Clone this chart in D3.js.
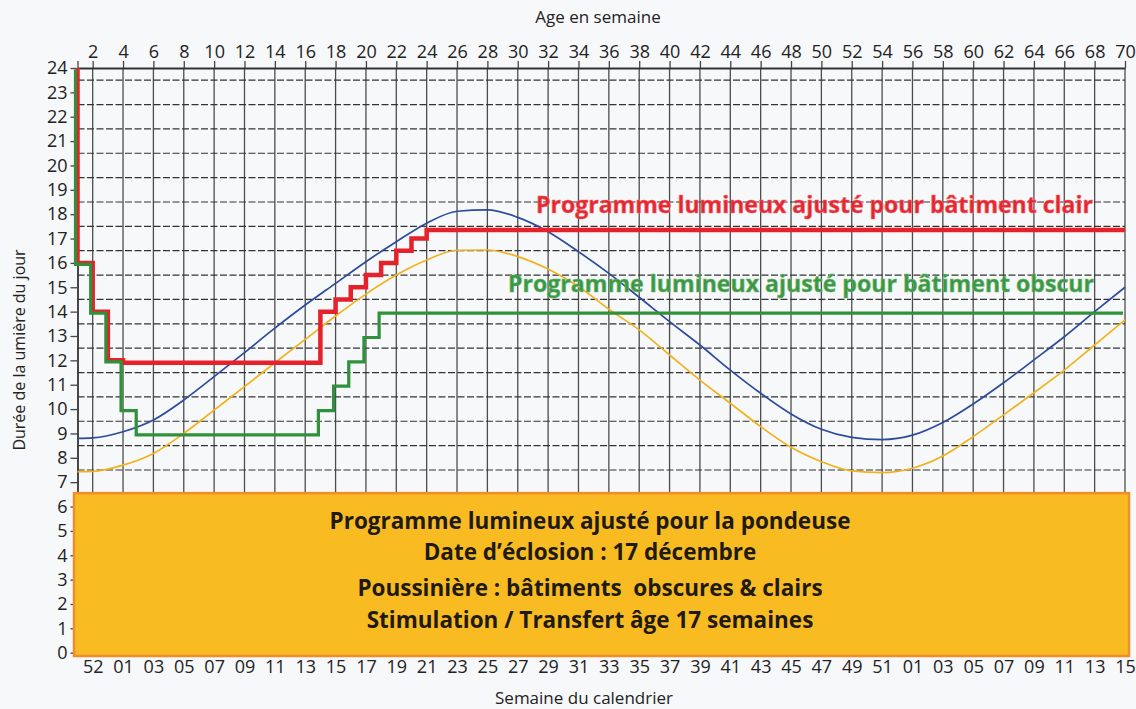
<!DOCTYPE html>
<html>
<head>
<meta charset="utf-8">
<script src="https://cdn.jsdelivr.net/npm/d3@7"></script>
<style>
  body { margin: 0; background: #f7f8fa; }
  svg { display: block; font-family: "Open Sans", sans-serif; }
</style>
</head>
<body>
<div id="chart"></div>
<script>
// age ticks (top axis) and matching calendar weeks (bottom axis)
const ageTicks = [2,4,6,8,10,12,14,16,18,20,22,24,26,28,30,32,34,36,38,40,42,44,46,48,50,52,54,56,58,60,62,64,66,68,70];
const calendarWeeks = ["52","01","03","05","07","09","11","13","15","17","19","21","23","25","27","29","31","33","35","37","39","41","43","45","47","49","51","01","03","05","07","09","11","13","15"];
const hourTicks = [0,1,2,3,4,5,6,7,8,9,10,11,12,13,14,15,16,17,18,19,20,21,22,23,24];
const halfHourGrid = [7.5,8.5,9.5,10.5,11.5,12.5,13.5,14.5,15.5,16.5,17.5,18.5,19.5,20.5,21.5,22.5,23.5];

// natural day length curves, read every two weeks
const curveAges = [1,2,4,6,8,10,12,14,16,18,20,22,24,26,28,30,32,34,36,38,40,42,44,46,48,50,52,54,56,58,60,62,64,66,68,70];
const blueHours = [8.80,8.82,9.07,9.55,10.37,11.33,12.32,13.32,14.27,15.16,16.05,16.87,17.63,18.12,18.18,17.87,17.28,16.46,15.57,14.59,13.59,12.63,11.60,10.65,9.80,9.17,8.84,8.75,8.93,9.45,10.21,11.08,12.02,12.97,14.00,15.00];
const orangeHours = [7.43,7.44,7.70,8.18,9.00,9.96,10.92,11.90,12.86,13.82,14.72,15.50,16.12,16.52,16.53,16.26,15.75,15.03,14.10,13.25,12.22,11.19,10.24,9.28,8.43,7.84,7.46,7.39,7.57,8.07,8.87,9.76,10.67,11.60,12.63,13.66];

// lighting programmes (step changes at given age)
const redAges  = [1,1,2,3,4,17,18,19,20,21,22,23,24,70];
const redHours = [24,16,14,12,11.9,14,14.5,15,15.5,16,16.5,17,17.35,17.35];
const greenAges  = [1,1,2,3,4,5,17,18,19,20,21,70];
const greenHours = [24,16,14,12,10,9,10,11,12,13,14,14];

const redLabel = "Programme lumineux ajusté pour bâtiment clair";
const greenLabel = "Programme lumineux ajusté pour bâtiment obscur";
const boxLines = [
  "Programme lumineux ajusté pour la pondeuse",
  "Date d\u2019éclosion : 17 décembre",
  "Poussinière : bâtiments  obscures & clairs",
  "Stimulation / Transfert âge 17 semaines"
];

const W = 1136, H = 709;
const svg = d3.select("#chart").append("svg")
    .attr("width", W).attr("height", H)
    .style("background", "#f7f8fa");

const x = d3.scaleLinear().domain([1, 70]).range([77.5, 1125]);
const y = d3.scaleLinear().domain([0, 24]).range([652.7, 68]);

// vertical solid grid
svg.append("g").selectAll("line")
  .data(ageTicks)
  .join("line")
    .attr("x1", d => x(d)).attr("x2", d => x(d))
    .attr("y1", y(24)).attr("y2", y(6))
    .attr("stroke", "#4d4d4d").attr("stroke-width", 1.3);

// dashed horizontal grid at half hours
svg.append("g").selectAll("line")
  .data(halfHourGrid)
  .join("line")
    .attr("x1", x(1)).attr("x2", x(70))
    .attr("y1", d => y(d)).attr("y2", d => y(d))
    .attr("stroke", "#333").attr("stroke-width", 1.2)
    .attr("stroke-dasharray", "7,2.5");

// top axis (age)
const topAxis = svg.append("g")
    .attr("transform", `translate(0,${y(24)})`)
    .call(d3.axisTop(x).tickValues([1].concat(ageTicks))
      .tickFormat(d => d === 1 ? "" : d).tickSize(7).tickSizeOuter(0).tickPadding(3));

// left axis (hours)
const leftAxis = svg.append("g")
    .attr("transform", `translate(${x(1)},0)`)
    .call(d3.axisLeft(y).tickValues(hourTicks).tickSize(7).tickSizeOuter(0).tickPadding(3));

[topAxis, leftAxis].forEach(g => {
  g.select(".domain").attr("stroke", "#333").attr("stroke-width", 1.8);
  g.selectAll(".tick line").attr("stroke", "#444").attr("stroke-width", 1.3);
  g.selectAll(".tick text").attr("fill", "#222").style("font-size", "18px")
    .style("font-family", "'Open Sans', sans-serif");
});

// daylight curves
const smooth = d3.line().x(d => x(d[0])).y(d => y(d[1])).curve(d3.curveMonotoneX);
svg.append("path")
    .attr("d", smooth(d3.zip(curveAges, blueHours)))
    .attr("fill", "none").attr("stroke", "#2c4b9c").attr("stroke-width", 1.7);
svg.append("path")
    .attr("d", smooth(d3.zip(curveAges, orangeHours)))
    .attr("fill", "none").attr("stroke", "#f3b21c").attr("stroke-width", 1.7);

// step programmes
const step = d3.line().x(d => x(d[0])).y(d => y(d[1])).curve(d3.curveStepAfter);
svg.append("path")
    .attr("d", step(d3.zip(redAges, redHours)))
    .attr("fill", "none").attr("stroke", "#e5212b").attr("stroke-width", 4.5);
svg.append("path")
    .attr("d", step(d3.zip(greenAges, greenHours)))
    .attr("transform", "translate(-2,1.5)")
    .attr("fill", "none").attr("stroke", "#2f9139").attr("stroke-width", 3.2);

// programme labels
svg.append("text")
    .attr("x", 536).attr("y", 213)
    .attr("textLength", 557).attr("lengthAdjust", "spacingAndGlyphs")
    .attr("fill", "#e3262f").attr("stroke", "#f06a70").attr("stroke-width", 0.6)
    .style("font-size", "23px").style("font-weight", 700)
    .text(redLabel);
svg.append("text")
    .attr("x", 508).attr("y", 292)
    .attr("textLength", 586).attr("lengthAdjust", "spacingAndGlyphs")
    .attr("fill", "#3a9744").attr("stroke", "#6fb86f").attr("stroke-width", 0.6)
    .style("font-size", "23px").style("font-weight", 700)
    .text(greenLabel);

// info box over lower part of the plot
svg.append("rect")
    .attr("x", 74).attr("y", y(6.55))
    .attr("width", 1129 - 74).attr("height", 656 - y(6.55))
    .attr("fill", "#f8bc22").attr("stroke", "#f08d2a").attr("stroke-width", 2.5);

const lineY = [529, 560, 596, 628];
svg.append("g").selectAll("text")
  .data(boxLines)
  .join("text")
    .attr("x", 590).attr("y", (d, i) => lineY[i])
    .attr("text-anchor", "middle")
    .attr("fill", "#1f1a14")
    .style("white-space", "pre")
    .style("font-size", "22.5px").style("font-weight", 700)
    .text(d => d);

// bottom axis (calendar week)
const bottomAxis = svg.append("g")
    .attr("transform", "translate(0,655)")
    .call(d3.axisBottom(x).tickValues(ageTicks)
      .tickFormat((d, i) => calendarWeeks[i]).tickSize(0).tickPadding(5));
bottomAxis.select(".domain").remove();
bottomAxis.selectAll(".tick text").attr("fill", "#222").style("font-size", "18px")
  .style("font-family", "'Open Sans', sans-serif");

// axis titles
svg.append("text").attr("x", 598).attr("y", 23).attr("text-anchor", "middle")
    .attr("fill", "#222").style("font-size", "17px").text("Age en semaine");
svg.append("text").attr("x", 584).attr("y", 704).attr("text-anchor", "middle")
    .attr("fill", "#222").style("font-size", "17px").text("Semaine du calendrier");
svg.append("text")
    .attr("transform", "translate(25,350) rotate(-90)")
    .attr("text-anchor", "middle")
    .attr("fill", "#222").style("font-size", "16px").text("Durée de la umière du jour");
</script>
</body>
</html>
